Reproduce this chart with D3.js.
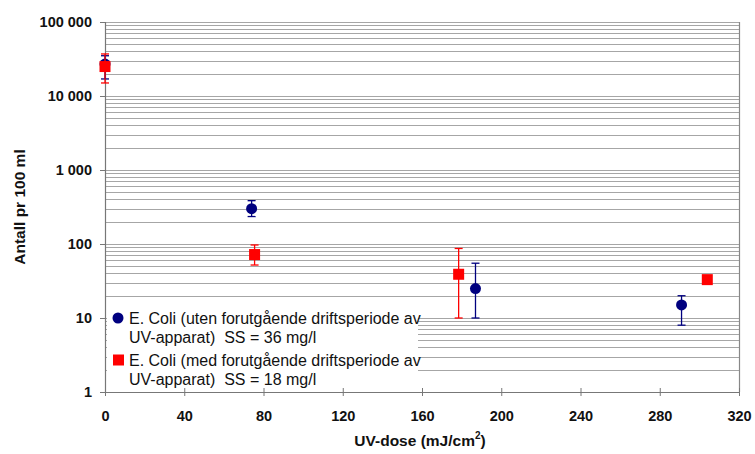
<!DOCTYPE html>
<html>
<head>
<meta charset="utf-8">
<script src="https://cdn.jsdelivr.net/npm/d3@7"></script>
<style>
  body { margin: 0; background: #fff; }
  text { font-family: "Liberation Sans", Arial, sans-serif; white-space: pre; }
</style>
</head>
<body>
<svg id="chart" width="755" height="454"></svg>
<script>
// series: UV-dose, value, error low, error high
const utenDose = [0, 74, 187, 291];
const utenValue = [27000, 300, 25, 15];
const utenLow = [17000, 235, 10, 8];
const utenHigh = [35000, 385, 55, 20];

const medDose = [0, 75.5, 178.5, 304];
const medValue = [25000, 72, 39, 33];
const medLow = [15000, 52, 10, null];
const medHigh = [37000, 97, 87, null];

const xTicks = [0, 40, 80, 120, 160, 200, 240, 280, 320];
const yTicks = [1, 10, 100, 1000, 10000, 100000];
const yTickLabels = ["1", "10", "100", "1 000", "10 000", "100 000"];

const legendLines = [
  ["E. Coli (uten forutgående driftsperiode av", "UV-apparat)  SS = 36 mg/l"],
  ["E. Coli (med forutgående driftsperiode av", "UV-apparat)  SS = 18 mg/l"]
];

const svg = d3.select("#chart");
const margin = { left: 105, right: 16, top: 22, bottom: 62 };
const width = 755 - margin.left - margin.right;
const height = 454 - margin.top - margin.bottom;

const x = d3.scaleLinear().domain([0, 320]).range([0, width]);
const y = d3.scaleLog().domain([1, 100000]).range([height, 0]);

const g = svg.append("g").attr("transform", `translate(${margin.left},${margin.top})`);

// gridlines: every 1..9 of each decade
const gridVals = [];
for (let d = 1; d < 100000; d *= 10) {
  for (let k = 1; k <= 9; k++) gridVals.push(d * k);
}
gridVals.push(100000);

g.append("g").selectAll("line")
  .data(gridVals.filter(v => v > 1))
  .enter().append("line")
  .attr("x1", 0).attr("x2", width)
  .attr("y1", d => Math.round(y(d)) + 0.5)
  .attr("y2", d => Math.round(y(d)) + 0.5)
  .attr("stroke", "#a6a6a6")
  .attr("stroke-width", 1.2);

// right border
g.append("line")
  .attr("x1", width + 0.5).attr("x2", width + 0.5)
  .attr("y1", 0).attr("y2", height)
  .attr("stroke", "#888").attr("stroke-width", 1.2);

// legend box (covers gridlines)
const legend = g.append("g").attr("transform", "translate(2,284)");
legend.append("rect")
  .attr("x", 0).attr("y", 0)
  .attr("width", 311).attr("height", height - 284 - 1)
  .attr("fill", "#fff");

legendLines.forEach((lines, i) => {
  const ly = 12 + i * 42;
  if (i === 0) {
    legend.append("circle").attr("cx", 11).attr("cy", ly).attr("r", 5.5).attr("fill", "#00007f");
  } else {
    legend.append("rect").attr("x", 6).attr("y", ly - 5.5).attr("width", 11).attr("height", 11).attr("fill", "#ff0000");
  }
  lines.forEach((t, j) => {
    legend.append("text")
      .attr("x", 22).attr("y", ly + 6 + j * 19)
      .attr("font-size", 16)
      .attr("fill", "#111")
      .text(t);
  });
});

// y axis
const yAxis = d3.axisLeft(y)
  .tickValues(yTicks)
  .tickFormat((d, i) => yTickLabels[i])
  .tickSize(5)
  .tickPadding(8);
const ya = g.append("g").call(yAxis);
ya.select(".domain").attr("stroke", "#777").attr("stroke-width", 1.2);
ya.selectAll(".tick line").attr("stroke", "#777");
ya.selectAll("text").attr("font-size", 14.5).attr("font-weight", "bold").attr("fill", "#111");

// x axis
const xAxis = d3.axisBottom(x)
  .tickValues(xTicks)
  .tickSizeInner(4)
  .tickSizeOuter(0)
  .tickPadding(15);
const xa = g.append("g").attr("transform", `translate(0,${height})`).call(xAxis);
xa.select(".domain").attr("stroke", "#777").attr("stroke-width", 1.2);
xa.selectAll(".tick line").attr("stroke", "#777").attr("y1", -4);
xa.selectAll("text").attr("font-size", 14.5).attr("font-weight", "bold").attr("fill", "#111");

// axis titles
const xt = svg.append("text")
  .attr("x", margin.left + width / 2 - 2).attr("y", 446)
  .attr("text-anchor", "middle")
  .attr("font-size", 15.5).attr("font-weight", "bold").attr("fill", "#111");
xt.append("tspan").text("UV-dose (mJ/cm");
xt.append("tspan").attr("font-size", 10).attr("dy", -7).text("2");
xt.append("tspan").attr("dy", 7).text(")");

svg.append("text")
  .attr("transform", `translate(25,${margin.top + height / 2}) rotate(-90)`)
  .attr("text-anchor", "middle")
  .attr("font-size", 15.5).attr("font-weight", "bold").attr("fill", "#111")
  .text("Antall pr 100 ml");

// error bars + markers
function drawSeries(dose, value, low, high, color, shape) {
  const data = dose.map((d, i) => ({ d, v: value[i], lo: low[i], hi: high[i] }));
  const eb = g.append("g");
  data.filter(p => p.lo != null).forEach(p => {
    const cx = x(p.d);
    eb.append("line").attr("x1", cx).attr("x2", cx).attr("y1", y(p.hi)).attr("y2", y(p.lo))
      .attr("stroke", color).attr("stroke-width", 1.3);
    [p.hi, p.lo].forEach(v => {
      eb.append("line").attr("x1", cx - 4).attr("x2", cx + 4).attr("y1", y(v)).attr("y2", y(v))
        .attr("stroke", color).attr("stroke-width", 1.3);
    });
  });
  if (shape === "circle") {
    g.append("g").selectAll("circle").data(data).enter().append("circle")
      .attr("cx", p => x(p.d)).attr("cy", p => y(p.v)).attr("r", 5.5).attr("fill", color);
  } else {
    g.append("g").selectAll("rect").data(data).enter().append("rect")
      .attr("x", p => x(p.d) - 5.5).attr("y", p => y(p.v) - 5.5)
      .attr("width", 11).attr("height", 11).attr("fill", color);
  }
}

drawSeries(utenDose, utenValue, utenLow, utenHigh, "#00007f", "circle");
drawSeries(medDose, medValue, medLow, medHigh, "#ff0000", "square");
</script>
</body>
</html>
